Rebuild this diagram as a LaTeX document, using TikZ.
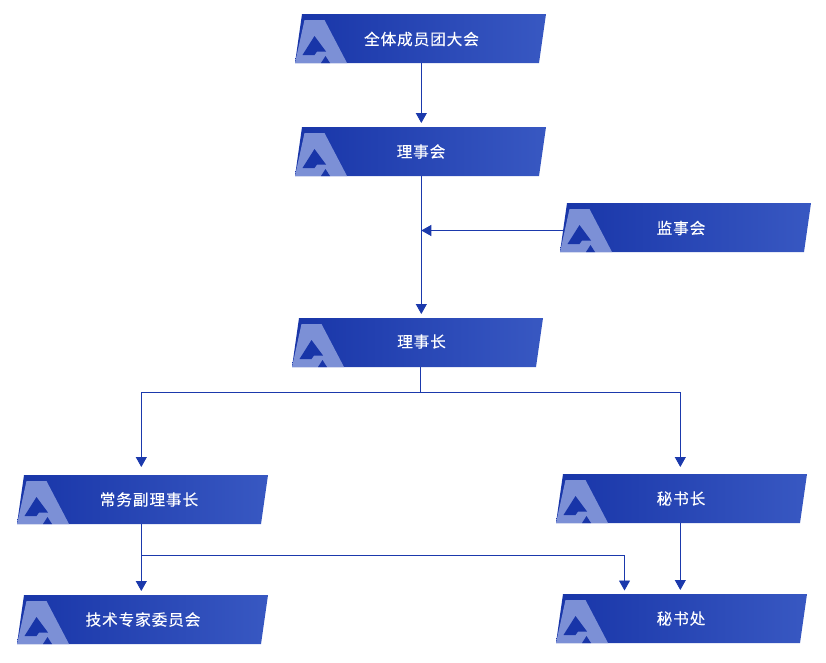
\documentclass[tikz,border=0pt]{standalone}
\usepackage{fontspec}
\setmainfont{Liberation Sans}
\newfontfamily\cjk[LetterSpace=6,FakeBold=0.25]{Noto Sans CJK SC}
\usetikzlibrary{arrows.meta}
\definecolor{linkblue}{HTML}{1B39AC}
\definecolor{bandL}{HTML}{1835A8}
\definecolor{bandR}{HTML}{3858C2}
\definecolor{logoL}{HTML}{7C90D6}
\tikzset{
  band/.style={left color=bandL,right color=bandR,draw=none},
  logo/.style={fill=logoL,draw=none},
  logocut/.style={fill=bandL,draw=none},
  holder/.style={minimum width=251pt,minimum height=49pt,inner sep=0pt,outer sep=0pt},
  caption/.style={text=white,font=\cjk\fontsize{15.6}{18}\selectfont,inner sep=0pt},
  link/.style={draw=linkblue,line width=0.9pt},
  linkto/.style={link,-{Triangle[width=11pt,length=10pt]}}
}
% #1 text y offset, #2 name, #3 left x, #4 top y, #5 text centre x, #6 text
\newcommand{\orgbox}[6][24.5]{%
  \begin{scope}[shift={(#3,#4)}]
    \path[band] (7,0) -- (251,0) -- (244,49) -- (0,49) -- cycle;
    \path[logo] (9.5,6) -- (29.5,6) -- (52,49) -- (0,49) -- cycle;
    \path[logocut] (19.5,22) -- (31,37.5) -- (22,37.5) -- (19.5,41) -- (7.5,41) -- cycle;
    \path[logocut] (30.5,42) -- (35,49) -- (26,49) -- cycle;
    \node[holder] (#2) at (125.5,24.5) {};
  \end{scope}
  \node[caption] (#2-text) at (#5,#4+#1) {#6};
}
\begin{document}
\begin{tikzpicture}[x=1pt,y=-1pt]
\useasboundingbox (0,0) rectangle (826,662);
\orgbox[25]{a}{295}{14}{421.5}{全体成员团大会}
\orgbox{b}{295}{127}{421}{理事会}
\orgbox[25]{d}{560}{203}{681}{监事会}
\orgbox[23.5]{c}{292}{318}{421.5}{理事长}
\orgbox{e}{17}{475}{149}{常务副理事长}
\orgbox{f}{556}{474}{681}{秘书长}
\orgbox{g}{17}{595}{143}{技术专家委员会}
\orgbox{h}{556}{594}{681}{秘书处}
\coordinate (join) at (421.3,230.5);
\coordinate (split) at (420.5,392);
\coordinate (tap) at (141.3,555);
\coordinate (hin) at (624.5,590.5);
\draw[linkto] ([xshift=0.8pt]a.south) -- ([xshift=0.8pt,yshift=4pt]b.north);
\draw[linkto] ([xshift=0.8pt]b.south) -- ([xshift=3.8pt,yshift=4pt]c.north);
\draw[linkto] ([xshift=4pt,yshift=-3pt]d.west) -- (join);
\draw[link] ([xshift=3pt]c.south) -- (split);
\draw[linkto] (split) -| ([xshift=-1.2pt,yshift=8pt]e.north);
\draw[linkto] (split) -| ([xshift=-1.2pt,yshift=7pt]f.north);
\draw[linkto] ([xshift=-1.2pt]e.south) -- ([xshift=-1.2pt,yshift=4pt]g.north);
\draw[linkto] (tap) -| (hin);
\draw[linkto] ([xshift=-1.2pt]f.south) -- ([xshift=-1.2pt,yshift=4pt]h.north);
\end{tikzpicture}
\end{document}
